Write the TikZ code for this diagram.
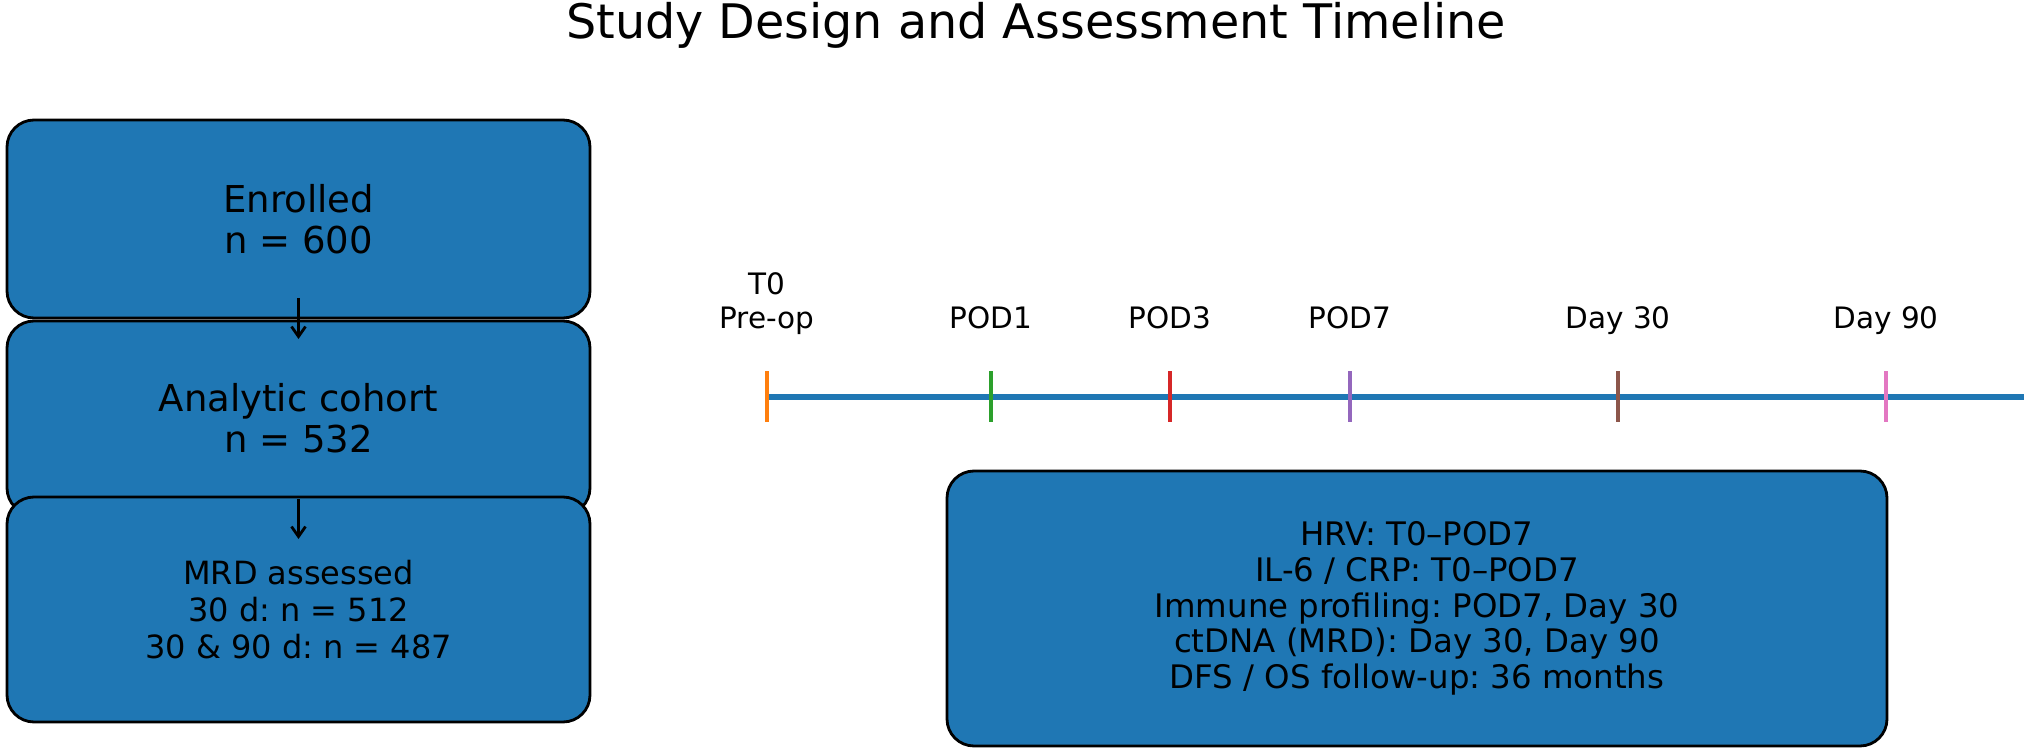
\documentclass[tikz,border=0pt]{standalone}
\usepackage{fontspec}
\setmainfont{DejaVu Sans}
\usetikzlibrary{arrows.meta}
\definecolor{mblue}{HTML}{1F77B4}
\definecolor{mC1}{HTML}{FF7F0E}
\definecolor{mC2}{HTML}{2CA02C}
\definecolor{mC3}{HTML}{D62728}
\definecolor{mC4}{HTML}{9467BD}
\definecolor{mC5}{HTML}{8C564B}
\definecolor{mC6}{HTML}{E377C2}
\frenchspacing
\begin{document}
\begin{tikzpicture}[x=0.5pt,y=-0.5pt,
  flowbox/.style={draw=black, line width=1.4pt, fill=mblue, rounded corners=13.5pt,
    inner sep=0pt, outer sep=0pt, align=center, minimum width=291.5pt},
  bigtext/.style={font=\fontsize{18.5}{20.5}\selectfont},
  midtext/.style={font=\fontsize{16}{18.5}\selectfont},
  infotext/.style={font=\fontsize{16.2}{17.8}\selectfont},
  flowarrow/.style={draw=black, line width=1.3pt, -{Straight Barb[length=5pt,width=7pt,line width=1.4pt]}},
  tickmark/.style={line width=2.4pt},
  ticklabel/.style={font=\fontsize{14.75}{17}\selectfont, anchor=south, align=center,
    inner sep=0pt, text depth=0.25em},
  timeline/.style={draw=mblue, line width=3.2pt}
]
\useasboundingbox (0,0) rectangle (2029,754);

% title
\node[anchor=base, inner sep=0pt, font=\fontsize{23.8}{28}\selectfont] (title) at (1036,39)
  {Study Design and Assessment Timeline};

% flow boxes
\node[flowbox, bigtext, minimum height=99pt] (b1) at (298.5,219) {Enrolled\\n = 600};
\node[flowbox, bigtext, minimum height=97pt] (b2) at (298.5,418) {Analytic cohort\\n = 532};
\node[flowbox, midtext, minimum height=112.5pt] (b3) at (298.5,609.5)
  {MRD assessed\\30 d: n = 512\\30 \& 90 d: n = 487};

\draw[flowarrow] ([yshift=10pt]b1.south) -- ([yshift=-9pt]b2.north);
\draw[flowarrow] ([yshift=8pt]b2.south) -- ([yshift=-21pt]b3.north);

% timeline
\coordinate (tlstart) at (765,397);
\coordinate (tlend) at (2024,397);
\draw[timeline] (tlstart) -- (tlend);

\foreach \nm/\xx/\col/\lab in {t0/767/mC1/{T0\\Pre-op}, t1/991/mC2/POD1, t3/1170/mC3/POD3,
    t7/1350/mC4/POD7, t30/1618/mC5/Day 30, t90/1886/mC6/Day 90}{
  \coordinate (\nm) at (\xx,397);
  \draw[tickmark, draw=\col] ([yshift=13pt]\nm) -- ([yshift=-12.5pt]\nm);
  \node[ticklabel] (\nm lab) at (\xx,334) {\lab};
}

% info box
\node[flowbox, infotext, minimum width=470pt, minimum height=137.5pt] (info) at (1417,608.5)
  {HRV: T0–POD7\\IL-6 / CRP: T0–POD7\\Immune profiling: POD7, Day 30\\ctDNA (MRD): Day 30, Day 90\\DFS / OS follow-up: 36 months};
\end{tikzpicture}
\end{document}
